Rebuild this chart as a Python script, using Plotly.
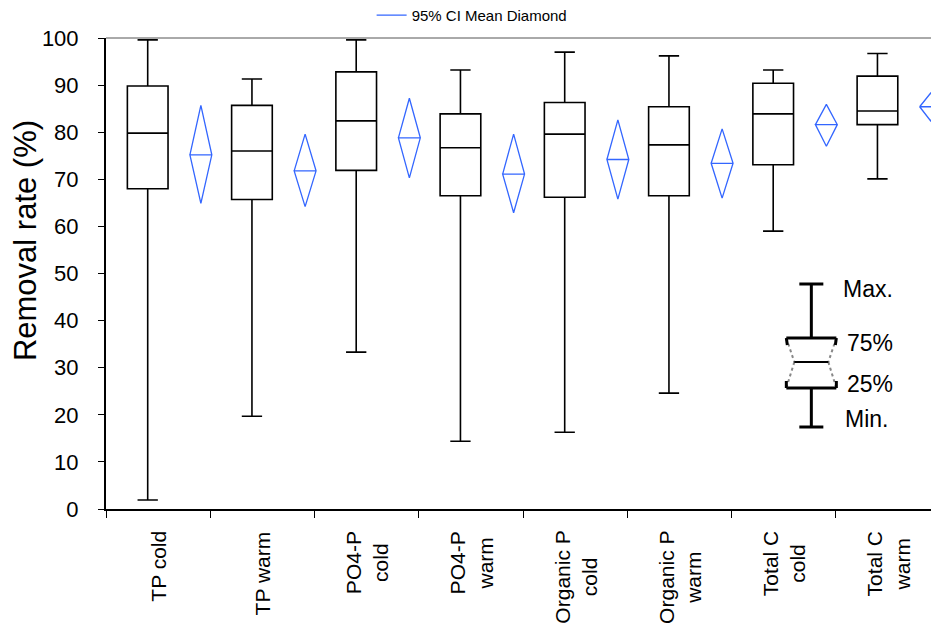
import plotly.graph_objects as go

categories = ["TP cold", "TP warm", "PO4-P<br>cold", "PO4-P<br>warm",
              "Organic P<br>cold", "Organic P<br>warm", "Total C<br>cold", "Total C<br>warm"]
q_min = [1.9, 19.7, 33.3, 14.4, 16.3, 24.6, 59.0, 70.1]
q1 = [68.0, 65.7, 71.9, 66.5, 66.2, 66.5, 73.1, 81.6]
median = [79.8, 76.0, 82.4, 76.7, 79.6, 77.3, 83.9, 84.5]
q3 = [89.8, 85.7, 92.8, 83.9, 86.3, 85.4, 90.4, 91.9]
q_max = [99.6, 91.3, 99.6, 93.2, 97.0, 96.2, 93.2, 96.7]
ci_mean = [75.2, 71.8, 78.8, 71.1, 74.2, 73.4, 81.6, 85.4]
ci_low = [64.9, 64.2, 70.3, 62.9, 65.8, 66.0, 77.0, 82.4]
ci_high = [85.7, 79.6, 87.2, 79.6, 82.6, 80.7, 85.9, 88.3]
y_ticks = list(range(0, 101, 10))

FONT = "Liberation Sans, Arial, sans-serif"
BLUE = "#3366FF"
n = len(categories)
box_pos = [i + 0.40 for i in range(n)]
dia_pos = [i + 0.91 for i in range(n)]
hw = 0.105

fig = go.Figure()
fig.add_trace(go.Box(
    x=box_pos, q1=q1, median=median, q3=q3, lowerfence=q_min, upperfence=q_max,
    width=0.39, whiskerwidth=0.5, line=dict(color="black", width=1.6),
    fillcolor="rgba(255,255,255,0)", showlegend=False, boxpoints=False,
))

dx, dy = [], []
for c, m, lo, hi in zip(dia_pos, ci_mean, ci_low, ci_high):
    dx += [c - hw, c, c + hw, c, c - hw, c + hw, None]
    dy += [m, hi, m, lo, m, m, None]
fig.add_trace(go.Scatter(x=dx, y=dy, mode="lines", line=dict(color=BLUE, width=1.3),
                         name="95% CI Mean Diamond", showlegend=True, cliponaxis=False))

# category labels
for i, lab in enumerate(categories):
    fig.add_annotation(x=i + 0.5, y=0, xref="x", yref="paper", text=lab, textangle=-90,
                       showarrow=False, yanchor="top", xanchor="center", yshift=-20,
                       font=dict(family=FONT, size=21, color="black"))

# key diagram (pixel positions -> data coords)
def X(px):
    return (px - 106) / 104.2

def Y(py):
    return (509 - py) / 4.71

def seg(x0, y0, x1, y1, w=3, color="black", dash="solid"):
    fig.add_shape(type="line", xref="x", yref="y", x0=X(x0), y0=Y(y0), x1=X(x1), y1=Y(y1),
                  line=dict(color=color, width=w, dash=dash))

cx = 811
seg(cx, 284, cx, 338)
seg(cx, 388, cx, 427)
seg(799, 284, 823, 284)
seg(799, 427, 823, 427)
seg(786, 338, 836, 338)
seg(786, 388, 836, 388)
seg(786, 338, 794, 362, 2, "#888888", "dot")
seg(794, 362, 786, 388, 2, "#888888", "dot")
seg(836, 338, 828, 362, 2, "#888888", "dot")
seg(828, 362, 836, 388, 2, "#888888", "dot")
seg(786, 338, 787, 345)
seg(786, 381, 786, 388)
seg(836, 338, 835, 345)
seg(836, 381, 836, 388)
seg(794, 362, 828, 362, 2)
for txt, px, py in [("Max.", 841, 289), ("75%", 845, 343), ("25%", 845, 384), ("Min.", 843, 419)]:
    fig.add_annotation(x=X(px), y=Y(py), xref="x", yref="y", text=txt, showarrow=False,
                       xanchor="left", yanchor="middle",
                       font=dict(family=FONT, size=23, color="black"))

# y title as annotation at fixed position
fig.add_annotation(x=-0.097, y=0.569, xref="paper", yref="paper", text="Removal rate (%)",
                   textangle=-90, showarrow=False, xanchor="center", yanchor="middle",
                   font=dict(family=FONT, size=31, color="black"))

# top frame line
fig.add_shape(type="line", xref="paper", yref="paper", x0=0, x1=1, y0=1, y1=1,
              line=dict(color="#555555", width=1))

fig.update_layout(
    width=939, height=631, margin=dict(l=98, r=7, t=30, b=130, autoexpand=False),
    paper_bgcolor="white", plot_bgcolor="white",
    font=dict(family=FONT, color="black"),
    showlegend=True,
    legend=dict(orientation="h", x=0.439, xanchor="center", y=1.083, yref="paper",
                yanchor="top", font=dict(family=FONT, size=15, color="black"),
                bgcolor="rgba(0,0,0,0)"),
    xaxis=dict(range=[0, 8], showgrid=False, zeroline=False, showticklabels=False,
               tickvals=list(range(n + 1)), ticks="outside", ticklen=7, tickcolor="black",
               showline=True, linecolor="black", linewidth=2, automargin=False),
    yaxis=dict(range=[0, 100], tickvals=y_ticks, showgrid=False, zeroline=False,
               ticks="outside", ticklen=6, tickcolor="black", ticklabelstandoff=15,
               showline=True, linecolor="black", linewidth=2, automargin=False,
               tickfont=dict(family=FONT, size=22, color="black")),
)

fig.write_html("out.html")
